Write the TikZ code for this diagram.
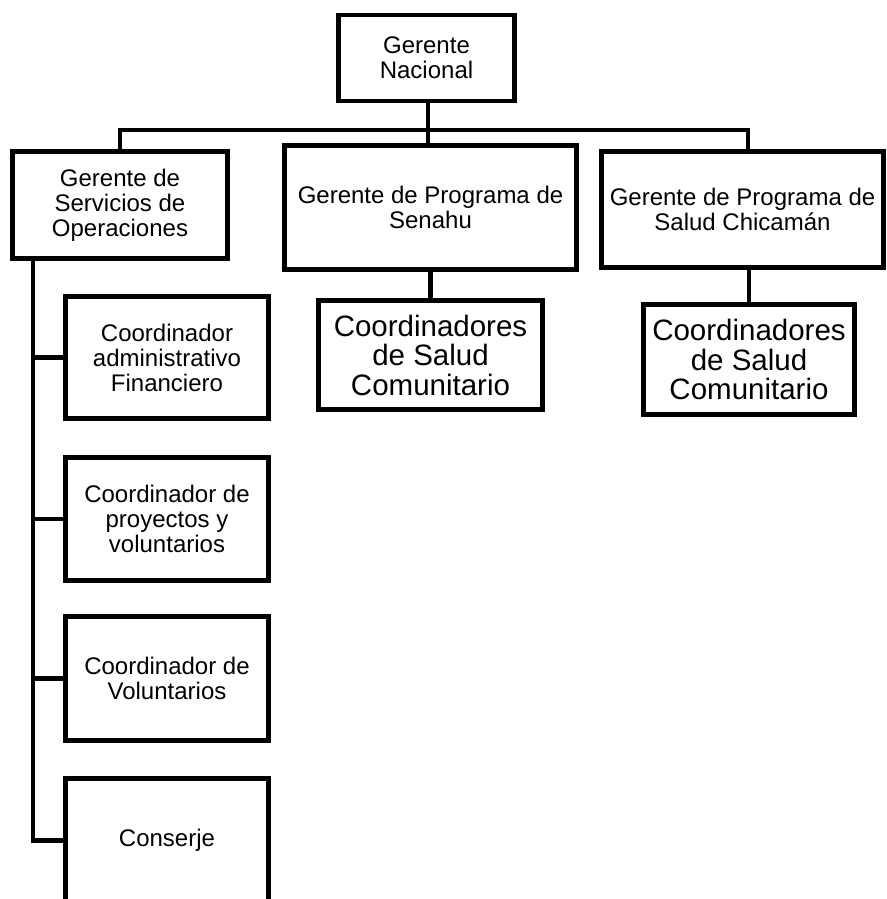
\documentclass[tikz,border=0pt]{standalone}
\usepackage{fontspec}
\setmainfont{Liberation Sans}
\begin{document}
\begin{tikzpicture}[x=1pt,y=-1pt,
  box/.style={draw=black, line width=4.5pt, inner sep=0pt, align=center,
    font=\fontsize{24}{25}\selectfont},
  bigbox/.style={box, font=\fontsize{29.5}{29.5}\selectfont},
  link/.style={line width=4.5pt, line cap=rect}]
\useasboundingbox (0,0) rectangle (886,899);
\clip (0,0) rectangle (886,899);

% top level
\node[box, minimum width=176pt, minimum height=86pt] (gn) at (426.5,58) {Gerente\\Nacional};

% second level
\node[box, minimum width=215pt, minimum height=107pt] (gso) at (120,205) {Gerente de\\Servicios de\\Operaciones};
\node[box, minimum width=292pt, minimum height=124pt] (sen) at (430.5,207.5) {Gerente de Programa de\\Senahu};
\node[box, minimum width=282pt, minimum height=116pt] (chi) at (742.5,209.5) {Gerente de Programa de\\Salud Chicamán};

% community health coordinators
\node[bigbox, minimum width=224pt, minimum height=109pt] (csen) at (430.5,355) {Coordinadores\\de Salud\\Comunitario};
\node[bigbox, minimum width=211pt, minimum height=110pt] (cchi) at (749,359.5) {Coordinadores\\de Salud\\Comunitario};

% operations staff
\node[box, minimum width=203pt, minimum height=122pt] (b1) at (167,357.5) {Coordinador\\administrativo\\Financiero};
\node[box, minimum width=203pt, minimum height=123pt] (b2) at (167,519) {Coordinador de\\proyectos y\\voluntarios};
\node[box, minimum width=203pt, minimum height=124pt] (b3) at (167,678.5) {Coordinador de\\Voluntarios};
\node[box, minimum width=203pt, minimum height=124pt] (b4) at (167,840.5) {Conserje};

% bus under the national manager
\coordinate (busL) at (120,130);
\coordinate (busR) at (748,130);
\coordinate (stem) at (428,0);
\draw[link] (gso.north) -- (busL) -- (busR) -- (busR |- chi.north);
\draw[link] (stem |- gn.south) -- (stem |- sen.north);

% program managers to coordinators
\draw[link] (csen.north |- sen.south) -- (csen.north);
\draw[link] (cchi.north |- chi.south) -- (cchi.north);

% operations spine
\coordinate (spine) at (33,0);
\draw[link] (spine |- gso.south) |- (b4.west);
\draw[link] (b1.west) -- (b1.west -| spine);
\draw[link] (b2.west) -- (b2.west -| spine);
\draw[link] (b3.west) -- (b3.west -| spine);
\end{tikzpicture}
\end{document}
